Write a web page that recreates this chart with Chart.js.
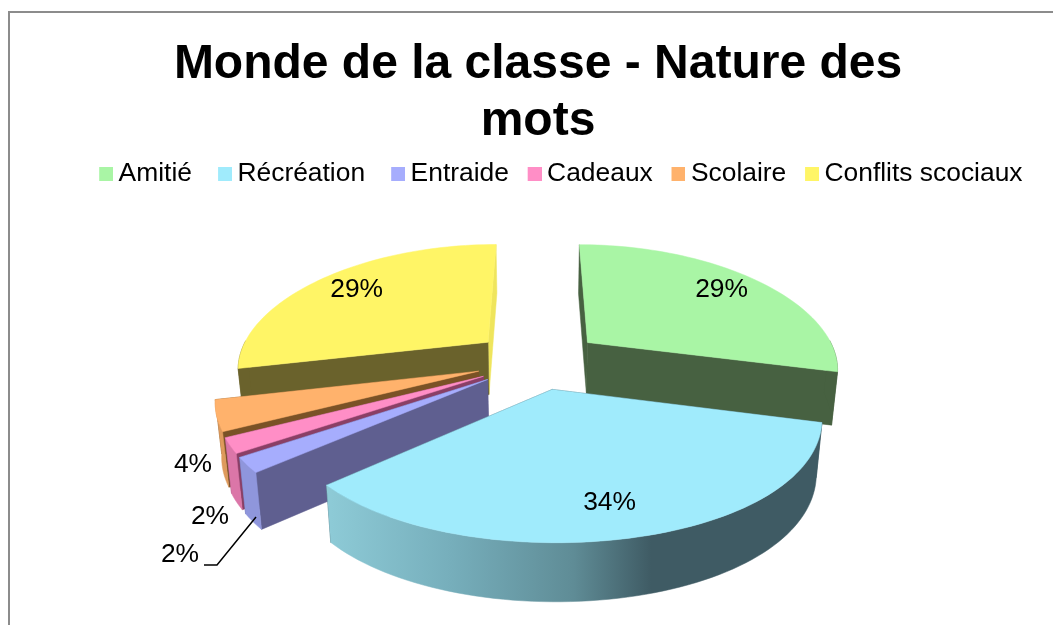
<!DOCTYPE html>
<html lang="fr">
<head>
<meta charset="utf-8">
<title>Monde de la classe - Nature des mots</title>
<script src="https://cdn.jsdelivr.net/npm/chart.js@4"></script>
<style>
  html, body { margin: 0; background: #fff; }
  canvas { display: block; }
</style>
</head>
<body>
<canvas id="chart" width="1053" height="625"></canvas>
<script>
const TITLE_LINES = ['Monde de la classe - Nature des', 'mots'];
const CATEGORIES = ['Amitié', 'Récréation', 'Entraide', 'Cadeaux', 'Scolaire', 'Conflits scociaux'];
const VALUES = [29, 34.4, 2, 2, 4, 28.6];
const TOP_COLORS = ['#A9F5A5', '#A0EBFC', '#A6ADFD', '#FF8EC6', '#FFB26C', '#FFF566'];

// wall shades: [outer rim, start radial face, end radial face]
const WALL_COLORS = [
  ['#476141', '#476141', '#476141'],
  [null,      '#3F5B64', '#3F5B64'],
  ['#8F96DC', '#5F5F90', '#5F5F90'],
  ['#DB76A8', '#8A3F66', '#8A3F66'],
  ['#DE9A5C', '#7A5226', '#7A5226'],
  ['#6A622C', '#6A622C', '#EFE55C'],
];
const RIM_GRADIENT = ['#8DCAD6', '#76AEBB', '#5F8C96', '#3F5B64', '#3F5B64'];

// 3D view of the exploded pie
const VIEW = { cx: 537.5, cy: 361, rx: 251, ry: 118.8, perspX: 0.2, perspY: 0.159, depth: 53, baseShrink: 0.98 };
const EXPLODE = [0.26, 0.237, 0.245, 0.245, 0.245, 0.26];
const FONT = '26.4px "Liberation Sans", Arial, sans-serif';

// where each label goes: pixel nudge from the slice's inner spot, or fixed spot outside it
const LABEL_R = 0.8;
const LABEL_NUDGE = { 0: [-2, -1], 1: [-5, -1], 5: [3, 0] };
const OUTER_LABELS = { 2: [180, 555], 3: [210, 517], 4: [193, 465] };
const LEADER = [[204, 565], [217, 565], [256, 517]];

function project(X, Y, low) {
  const sx = 1 / (1 - VIEW.perspX * Y);
  const sy = 1 / (1 - VIEW.perspY * Y);
  return [
    VIEW.cx + VIEW.rx * X * sx * (low ? VIEW.baseShrink : 1),
    VIEW.cy + VIEW.ry * Y * sy + (low ? VIEW.depth * Math.sqrt(sy) : 0),
  ];
}

function poly(ctx, pts, fill) {
  ctx.beginPath();
  pts.forEach((p, i) => i ? ctx.lineTo(p[0], p[1]) : ctx.moveTo(p[0], p[1]));
  ctx.closePath();
  ctx.fillStyle = fill;
  ctx.fill();
  ctx.strokeStyle = fill;
  ctx.lineWidth = 0.5;
  ctx.stroke();
}

function drawSlice(ctx, arc, i) {
  const mid = (arc.startAngle + arc.endAngle) / 2;
  const ox = Math.cos(mid) * EXPLODE[i];
  const oy = Math.sin(mid) * EXPLODE[i];
  const steps = Math.max(4, Math.ceil((arc.endAngle - arc.startAngle) / 0.03));

  const rim = [];
  for (let n = 0; n <= steps; n++) {
    const t = arc.startAngle + (arc.endAngle - arc.startAngle) * n / steps;
    rim.push({ X: ox + Math.cos(t), Y: oy + Math.sin(t), facing: Math.sin(t) > -0.02 });
  }
  const high = rim.map(p => project(p.X, p.Y, false));
  const low = rim.map(p => project(p.X, p.Y, true));
  const apexHigh = project(ox, oy, false);
  const apexLow = project(ox, oy, true);
  const walls = WALL_COLORS[i];
  const last = high.length - 1;

  const faces = [
    { y: rim[0].Y, pts: [apexHigh, high[0], low[0], apexLow], fill: walls[1] },
    { y: rim[last].Y, pts: [apexHigh, high[last], low[last], apexLow], fill: walls[2] },
  ].sort((a, b) => a.y - b.y);
  faces.forEach(f => poly(ctx, f.pts, f.fill));

  // only the part of the rim that looks towards the viewer
  const seenHigh = high.filter((p, n) => rim[n].facing);
  const seenLow = low.filter((p, n) => rim[n].facing);
  if (seenHigh.length > 1) {
    let rimFill = walls[0];
    if (!rimFill) {
      rimFill = ctx.createLinearGradient(low[last][0], 0, low[0][0], 0);
      RIM_GRADIENT.forEach((c, n) => rimFill.addColorStop(n === 3 ? 0.66 : n / (RIM_GRADIENT.length - 1), c));
    }
    poly(ctx, seenHigh.concat(seenLow.slice().reverse()), rimFill);
  }
  poly(ctx, [apexHigh].concat(high), TOP_COLORS[i]);
}

function drawLabels(ctx, arcs, total) {
  ctx.font = FONT;
  ctx.fillStyle = '#000';
  ctx.textAlign = 'center';
  ctx.textBaseline = 'middle';
  arcs.forEach((arc, i) => {
    const text = Math.round(VALUES[i] / total * 100) + '%';
    if (OUTER_LABELS[i]) {
      ctx.fillText(text, OUTER_LABELS[i][0], OUTER_LABELS[i][1]);
      return;
    }
    const mid = (arc.startAngle + arc.endAngle) / 2;
    const r = EXPLODE[i] + LABEL_R;
    const p = project(Math.cos(mid) * r, Math.sin(mid) * r, false);
    ctx.fillText(text, p[0] + LABEL_NUDGE[i][0], p[1] + LABEL_NUDGE[i][1]);
  });

  ctx.beginPath();
  LEADER.forEach((p, n) => n ? ctx.lineTo(p[0], p[1]) : ctx.moveTo(p[0], p[1]));
  ctx.strokeStyle = '#000';
  ctx.lineWidth = 1.5;
  ctx.stroke();
}

const pie3d = {
  id: 'pie3d',
  beforeDraw(chart) {
    const ctx = chart.ctx;
    ctx.save();
    ctx.strokeStyle = '#8C8C8C';
    ctx.lineWidth = 2;
    ctx.strokeRect(9, 12, chart.width + 20, chart.height + 20);
    ctx.restore();
  },
  // the library works out the angles, they are only re-projected here
  beforeDatasetsDraw(chart) {
    const ctx = chart.ctx;
    const arcs = chart.getDatasetMeta(0).data;
    const order = [5, 0, 4, 3, 2, 1];
    ctx.save();
    order.forEach(i => drawSlice(ctx, arcs[i], i));
    drawLabels(ctx, arcs, VALUES.reduce((a, b) => a + b, 0));
    ctx.restore();
    return false;
  },
};

function legendSwatch(color) {
  const c = document.createElement('canvas');
  c.width = 16;
  c.height = 14;
  const g = c.getContext('2d');
  g.fillStyle = color;
  g.fillRect(2, 0, 14, 14);
  return c;
}

new Chart(document.getElementById('chart'), {
  type: 'pie',
  data: {
    labels: CATEGORIES,
    datasets: [{ data: VALUES, backgroundColor: TOP_COLORS, borderWidth: 0 }],
  },
  plugins: [pie3d],
  options: {
    responsive: false,
    animation: false,
    layout: { padding: { left: 29, right: 6 } },
    plugins: {
      tooltip: { enabled: false },
      title: {
        display: true,
        text: TITLE_LINES,
        color: '#000',
        font: { family: '"Liberation Sans", Arial, sans-serif', size: 48, weight: 'bold', lineHeight: 1.19 },
        padding: { top: 36, bottom: -14 },
      },
      legend: {
        position: 'top',
        align: 'end',
        labels: {
          color: '#000',
          font: { family: '"Liberation Sans", Arial, sans-serif', size: 26.4 },
          usePointStyle: true,
          pointStyleWidth: 0.5,
          boxHeight: 14,
          padding: 24.5,
          generateLabels: chart => CATEGORIES.map((name, i) => ({
            // first two entries sit a little further from their neighbour
            text: i < 2 ? name + ' ' : name,
            pointStyle: legendSwatch(TOP_COLORS[i]),
            fontColor: '#000',
            hidden: false,
            index: i,
            lineWidth: 0,
          })),
        },
      },
    },
  },
});
</script>
</body>
</html>
